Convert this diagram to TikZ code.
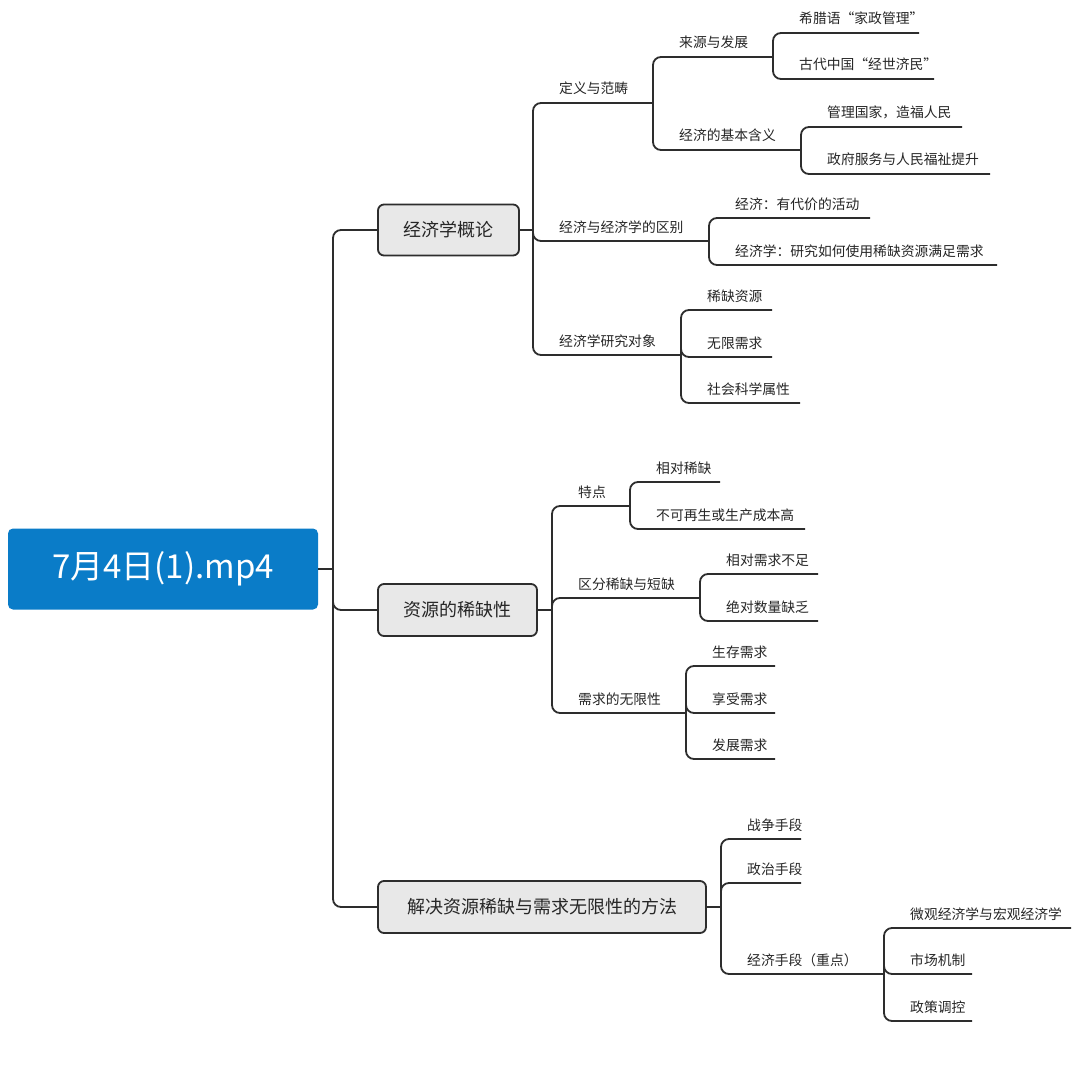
\documentclass[tikz,border=0pt]{standalone}
\usepackage{fontspec}
\setmainfont{Noto Sans CJK SC}
\definecolor{rootblue}{RGB}{10,124,200}
\definecolor{ln}{RGB}{45,45,45}
\definecolor{boxfill}{RGB}{232,232,232}
\newcommand\mmleaf[5]{%
  \node[lbl, anchor=base west] (#1) at (#2+26, #4-9) {#5};
  \coordinate (#1e) at (#3, #4);}
\begin{document}
\begin{tikzpicture}[x=1pt,y=-1pt,
  conn/.style={draw=ln, line width=1.8pt, rounded corners=8pt},
  lbl/.style={inner sep=0pt, font=\fontsize{13.8}{16}\selectfont, text=black!85},
  topic/.style={draw=ln, line width=1.8pt, fill=boxfill, rounded corners=6pt,
    inner sep=0pt, font=\fontsize{18}{22}\selectfont, text=black!85},
  rootbox/.style={fill=rootblue, rounded corners=5pt, minimum width=310pt,
    minimum height=81pt, inner sep=0pt, text=white, font=\fontsize{33}{40}\selectfont}]
\useasboundingbox (0,0) rectangle (1078,1086);
\fill[white] (0,0) rectangle (1078,1086);

% root and topics
\node[rootbox] (root) at (163,569) {7月4日(1).mp4};
\node[topic, minimum width=141pt, minimum height=51pt] (T1) at (448.5,230) {经济学概论};
\node[topic, minimum width=159pt, minimum height=52pt] (T2) at (457.5,610) {资源的稀缺性};
\node[topic, minimum width=328pt, minimum height=52pt] (T3) at (542,907) {解决资源稀缺与需求无限性的方法};

\coordinate (J0) at (333,569);
\coordinate (J1) at (533,230);
\coordinate (J2) at (552,610);
\coordinate (J3) at (721,907);

\draw[conn] (root.east) -- (J0);
\draw[conn] (J0) |- (T1.west);
\draw[conn] (J0) |- (T2.west);
\draw[conn] (J0) |- (T3.west);
\draw[conn] (T1.east) -- (J1);
\draw[conn] (T2.east) -- (J2);
\draw[conn] (T3.east) -- (J3);

% topic 1
\mmleaf{A1}{533}{653}{103}{定义与范畴}
\mmleaf{A2}{533}{709}{241}{经济与经济学的区别}
\mmleaf{A3}{533}{681}{355}{经济学研究对象}
\mmleaf{A11}{653}{773}{57}{来源与发展}
\mmleaf{A12}{653}{801}{150}{经济的基本含义}
\mmleaf{A111}{773}{919}{33}{希腊语“家政管理”}
\mmleaf{A112}{773}{934}{79}{古代中国“经世济民”}
\mmleaf{A121}{801}{962}{127}{管理国家，造福人民}
\mmleaf{A122}{801}{990}{174}{政府服务与人民福祉提升}
\mmleaf{A21}{709}{870}{218}{经济：有代价的活动}
\mmleaf{A22}{709}{997}{265}{经济学：研究如何使用稀缺资源满足需求}
\mmleaf{A31}{681}{772}{310}{稀缺资源}
\mmleaf{A32}{681}{772}{357}{无限需求}
\mmleaf{A33}{681}{800}{403}{社会科学属性}

\draw[conn] (J1) |- (A1e);
\draw[conn] (J1) |- (A2e);
\draw[conn] (J1) |- (A3e);
\draw[conn] (A1e) |- (A11e);
\draw[conn] (A1e) |- (A12e);
\draw[conn] (A11e) |- (A111e);
\draw[conn] (A11e) |- (A112e);
\draw[conn] (A12e) |- (A121e);
\draw[conn] (A12e) |- (A122e);
\draw[conn] (A2e) |- (A21e);
\draw[conn] (A2e) |- (A22e);
\draw[conn] (A3e) |- (A31e);
\draw[conn] (A3e) |- (A32e);
\draw[conn] (A3e) |- (A33e);

% topic 2
\mmleaf{B1}{552}{630}{506}{特点}
\mmleaf{B2}{552}{700}{598}{区分稀缺与短缺}
\mmleaf{B3}{552}{686}{713}{需求的无限性}
\mmleaf{B11}{630}{720}{482}{相对稀缺}
\mmleaf{B12}{630}{805}{529}{不可再生或生产成本高}
\mmleaf{B21}{700}{818}{574}{相对需求不足}
\mmleaf{B22}{700}{818}{621}{绝对数量缺乏}
\mmleaf{B31}{686}{775}{666}{生存需求}
\mmleaf{B32}{686}{775}{713}{享受需求}
\mmleaf{B33}{686}{775}{759}{发展需求}

\draw[conn] (J2) |- (B1e);
\draw[conn] (J2) |- (B2e);
\draw[conn] (J2) |- (B3e);
\draw[conn] (B1e) |- (B11e);
\draw[conn] (B1e) |- (B12e);
\draw[conn] (B2e) |- (B21e);
\draw[conn] (B2e) |- (B22e);
\draw[conn] (B3e) |- (B31e);
\draw[conn] (B3e) |- (B32e);
\draw[conn] (B3e) |- (B33e);

% topic 3
\mmleaf{C1}{721}{801}{839}{战争手段}
\mmleaf{C2}{721}{801}{883}{政治手段}
\mmleaf{C3}{721}{884}{974}{经济手段（重点）}
\mmleaf{C31}{884}{1071}{928}{微观经济学与宏观经济学}
\mmleaf{C32}{884}{972}{974}{市场机制}
\mmleaf{C33}{884}{972}{1021}{政策调控}

\draw[conn] (J3) |- (C1e);
\draw[conn] (J3) |- (C2e);
\draw[conn] (J3) |- (C3e);
\draw[conn] (C3e) |- (C31e);
\draw[conn] (C3e) |- (C32e);
\draw[conn] (C3e) |- (C33e);
\end{tikzpicture}
\end{document}
